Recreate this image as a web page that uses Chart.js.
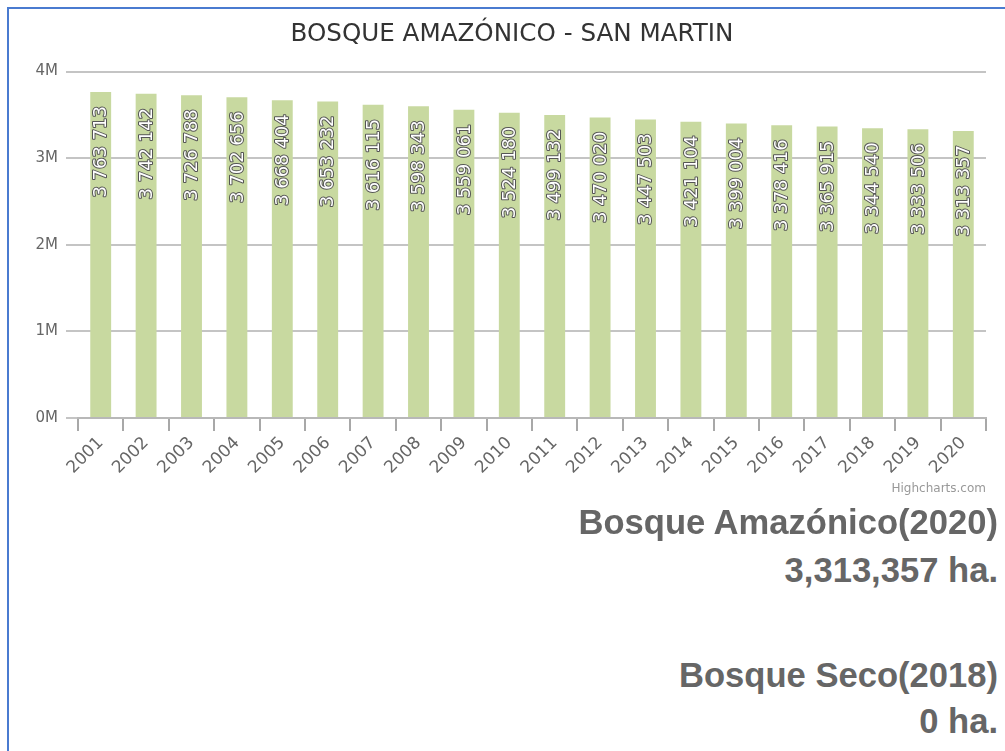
<!DOCTYPE html>
<html>
<head>
<meta charset="utf-8">
<script src="https://cdn.jsdelivr.net/npm/chart.js@4/dist/chart.umd.min.js"></script>
<style>
  html, body { margin: 0; padding: 0; background: #fff; overflow: hidden; }
  #frame {
    position: absolute; left: 7px; top: 7px; width: 1100px; height: 900px;
    border-left: 2px solid #4a7bd0; border-top: 2px solid #4a7bd0;
  }
  #wrap { position: absolute; left: 10px; top: 10px; width: 1004px; height: 490px; }
  .credit {
    position: absolute; right: 19px; top: 481px;
    font: 12px "DejaVu Sans", sans-serif; color: #999;
  }
  .big {
    position: absolute; right: 7px;
    font: bold 34.6px "Liberation Sans", Arial, sans-serif; line-height: 34px;
    color: #666; white-space: nowrap;
  }
</style>
</head>
<body>
<div id="frame"></div>
<div id="wrap"><canvas id="chart"></canvas></div>
<div class="credit">Highcharts.com</div>
<div class="big" style="top:505px">Bosque Amazónico(2020)</div>
<div class="big" style="top:553px">3,313,357 ha.</div>
<div class="big" style="top:658px">Bosque Seco(2018)</div>
<div class="big" style="top:704px">0 ha.</div>
<script>
const years = ['2001', '2002', '2003', '2004', '2005', '2006', '2007', '2008', '2009', '2010',
               '2011', '2012', '2013', '2014', '2015', '2016', '2017', '2018', '2019', '2020'];
const amazonForest = [3763713, 3742142, 3726788, 3702656, 3668404, 3653232, 3616115, 3598343,
                      3559061, 3524180, 3499132, 3470020, 3447503, 3421104, 3399004, 3378416,
                      3365915, 3344540, 3333506, 3313357];
const yTicks = [0, 1000000, 2000000, 3000000, 4000000];

const fmt = v => String(v).replace(/\B(?=(\d{3})+(?!\d))/g, ' ');

// white labels with dark outline, rotated inside the bars
const barLabels = {
    id: 'barLabels',
    afterDatasetsDraw(chart) {
        const ctx = chart.ctx;
        const meta = chart.getDatasetMeta(0);
        ctx.save();
        ctx.font = '18px "DejaVu Sans"';
        ctx.textAlign = 'right';
        ctx.textBaseline = 'middle';
        ctx.lineJoin = 'round';
        meta.data.forEach((bar, i) => {
            const text = fmt(chart.data.datasets[0].data[i]);
            ctx.save();
            ctx.translate(bar.x, bar.y + 14);
            ctx.rotate(-Math.PI / 2);
            ctx.lineWidth = 2;
            ctx.strokeStyle = '#555';
            ctx.strokeText(text, 0, 1);
            ctx.fillStyle = '#fff';
            ctx.fillText(text, 0, 1);
            ctx.restore();
        });
        ctx.restore();
    }
};

new Chart(document.getElementById('chart'), {
    type: 'bar',
    data: {
        labels: years,
        datasets: [{
            data: amazonForest,
            backgroundColor: '#c8d9a0',
            barPercentage: 0.46,
            categoryPercentage: 1
        }]
    },
    options: {
        responsive: true,
        maintainAspectRatio: false,
        animation: false,
        layout: { padding: 0 },
        plugins: {
            legend: { display: false },
            tooltip: { enabled: false },
            title: {
                display: true,
                text: 'BOSQUE AMAZÓNICO - SAN MARTIN',
                color: '#333',
                font: { family: 'DejaVu Sans', size: 24.6, weight: 'normal' },
                padding: { top: 10, bottom: 22 }
            }
        },
        scales: {
            x: {
                afterFit: s => { s.height = 82; },
                grid: {
                    display: true, drawOnChartArea: false, drawTicks: true,
                    tickLength: 13, color: '#a8a8a8', lineWidth: 2, offset: true
                },
                border: { display: true, color: '#b8b8b8', width: 2 },
                ticks: {
                    autoSkip: false, minRotation: 45, maxRotation: 45, padding: 2,
                    color: '#666', font: { family: 'DejaVu Sans', size: 17 }
                }
            },
            y: {
                min: 0, max: 4000000,
                afterFit: s => { s.width = 68; },
                afterBuildTicks: s => { s.ticks = yTicks.map(v => ({ value: v })); },
                grid: { color: '#c4c4c4', lineWidth: 2, tickLength: 12, drawTicks: true },
                border: { display: false },
                ticks: {
                    padding: 8, color: '#666',
                    font: { family: 'DejaVu Sans', size: 15 },
                    callback: v => (v / 1000000) + 'M'
                }
            },
            // empty right-hand spacer so the title stays centred on the full width
            spacer: {
                type: 'linear', position: 'right', display: true,
                afterFit: s => { s.width = 28; },
                grid: { display: false }, border: { display: false },
                ticks: { display: false }
            }
        }
    },
    plugins: [barLabels]
});
</script>
</body>
</html>
